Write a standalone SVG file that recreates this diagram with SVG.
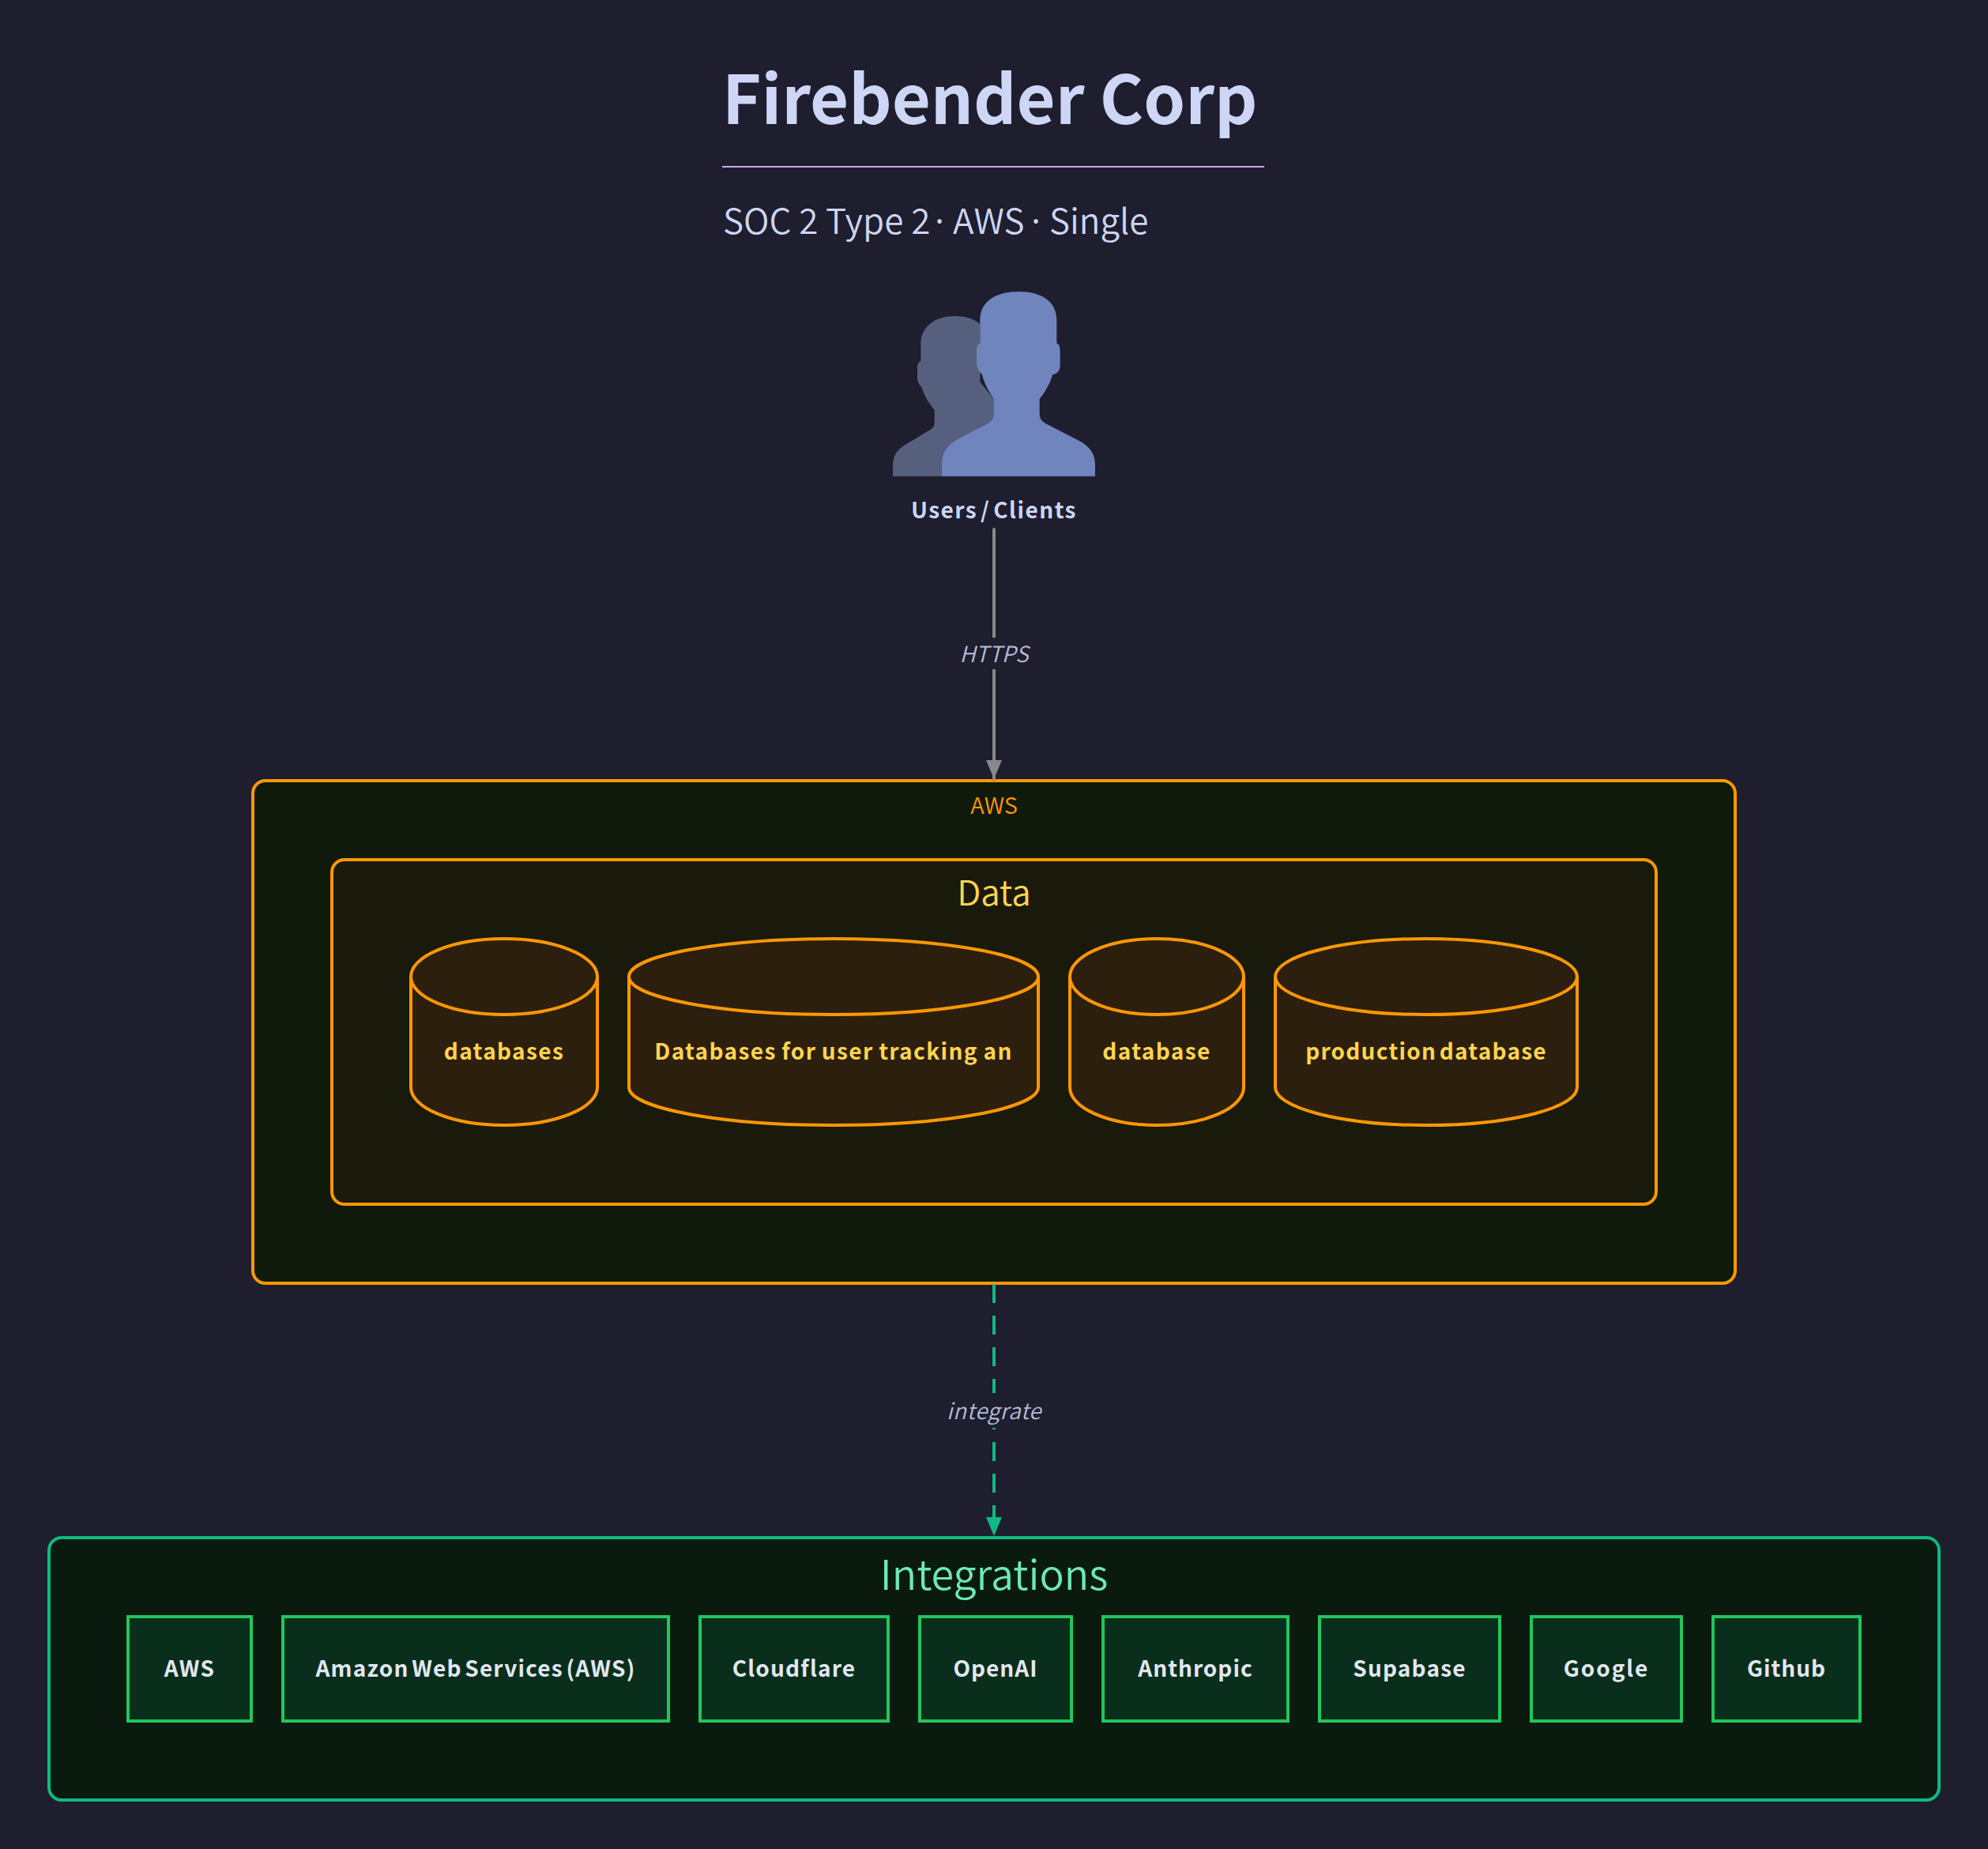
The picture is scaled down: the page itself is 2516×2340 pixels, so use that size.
<svg xmlns="http://www.w3.org/2000/svg" width="2516" height="2340" viewBox="0 0 2516 2340">
<style>
text{font-family:"Noto Sans CJK JP","Noto Sans",sans-serif}
.m{text-anchor:middle}
.cyl{fill:#2d1f0e;stroke:#ff9800;stroke-width:4}
.cl{fill:#ffd54f;font-size:28px;font-weight:700;letter-spacing:1.4px;word-spacing:-4px;text-anchor:middle}
.box{fill:#0a2e1c;stroke:#22c55e;stroke-width:4}
.bl{fill:#e2e8f0;font-size:28px;font-weight:700;letter-spacing:1.2px;word-spacing:-4px;text-anchor:middle}
.el{fill:#b4bcd9;font-size:28px;font-style:italic;font-weight:350;text-anchor:middle}
</style>
<defs>
<marker id="ag" markerUnits="userSpaceOnUse" markerWidth="24" markerHeight="20" refX="24" refY="10" orient="auto"><path d="M0 0L24 10L0 20Z" fill="#888"/></marker>
<marker id="at" markerUnits="userSpaceOnUse" markerWidth="24" markerHeight="20" refX="24" refY="10" orient="auto"><path d="M0 0L24 10L0 20Z" fill="#10b981"/></marker>
</defs>
<rect width="2516" height="2340" fill="#1e1e2e"/>
<g id="header">
<text x="914" y="157" font-size="84.6" font-weight="700" fill="#cdd6f4">Firebender Corp</text>
<line x1="914" y1="211" x2="1600" y2="211" stroke="#cba6f7" stroke-width="2"/>
<text y="296" font-size="44" font-weight="350" fill="#cdd6f4"><tspan x="915">SOC 2 Type 2</tspan><tspan x="1177">·</tspan><tspan x="1206">AWS</tspan><tspan x="1299">·</tspan><tspan x="1328">Single</tspan></text>
</g>
<g id="users">
<g transform="translate(1100 350) scale(.33333)">
<path fill="#56607e" d="M90 758V720C90 680 105 660 135 640L235 580C245 572 248 565 248 550V507C225 480 208 450 198 418C188 410 183 400 183 385V345C183 330 188 325 196 320V255C196 190 250 150 325 150C370 150 400 162 421 180V400L473 465V520C473 535 468 547 450 557L330 620C295 640 275 670 275 715V758Z"/>
<path fill="#7084bd" d="M275 758V715C275 670 295 640 330 620L450 557C468 547 473 535 473 520V465C450 430 435 400 428 370C415 360 408 345 408 325V285C408 265 412 258 421 253V165C421 95 480 57 566 57C655 57 712 95 712 165V253C722 258 725 268 725 285V340C725 358 712 370 696 373C688 405 670 435 647 465V520C647 535 652 548 670 558L800 625C835 645 858 670 858 715V758Z"/>
</g>
<text class="m" x="1258" y="656" font-size="28" font-weight="700" letter-spacing="1.5" word-spacing="-4" fill="#cdd6f4">Users / Clients</text>
</g>
<g id="aws">
<rect x="320" y="988" width="1876" height="636" rx="16" fill="#0f1a0b" stroke="#ff9800" stroke-width="4"/>
<text class="m" x="1258" y="1030" font-size="29" font-weight="350" fill="#ff9800">AWS</text>
</g>
<g id="data">
<rect x="420" y="1088" width="1676" height="436" rx="16" fill="#1a1a0c" stroke="#ff9800" stroke-width="4"/>
<text class="m" x="1258" y="1146" font-size="44" font-weight="350" fill="#ffd54f">Data</text>
</g>
<g id="db1"><path class="cyl" d="M520 1236V1376A118 48 0 0 0 756 1376V1236A118 48 0 0 0 520 1236ZM520 1236A118 48 0 0 0 756 1236"/><text class="cl" x="638" y="1341">databases</text></g>
<g id="db2"><path class="cyl" d="M796 1236V1376A259 48 0 0 0 1314 1376V1236A259 48 0 0 0 796 1236ZM796 1236A259 48 0 0 0 1314 1236"/><text class="cl" x="1055" y="1341" style="word-spacing:-1.2px">Databases for user tracking an</text></g>
<g id="db3"><path class="cyl" d="M1354 1236V1376A110 48 0 0 0 1574 1376V1236A110 48 0 0 0 1354 1236ZM1354 1236A110 48 0 0 0 1574 1236"/><text class="cl" x="1464" y="1341">database</text></g>
<g id="db4"><path class="cyl" d="M1614 1236V1376A191 48 0 0 0 1996 1376V1236A191 48 0 0 0 1614 1236ZM1614 1236A191 48 0 0 0 1996 1236"/><text class="cl" x="1805" y="1341" style="letter-spacing:1.25px">production database</text></g>
<g id="integrations">
<rect x="62" y="1946" width="2392" height="332" rx="16" fill="#0a1a0f" stroke="#10b981" stroke-width="4"/>
<text class="m" x="1258" y="2012" font-size="52" font-weight="350" fill="#6ee7b7">Integrations</text>
</g>
<g id="i1"><rect class="box" x="162" y="2046" width="156" height="132"/><text class="bl" x="240" y="2122">AWS</text></g>
<g id="i2"><rect class="box" x="358" y="2046" width="488" height="132"/><text class="bl" x="602" y="2122">Amazon Web Services (AWS)</text></g>
<g id="i3"><rect class="box" x="886" y="2046" width="238" height="132"/><text class="bl" x="1005" y="2122">Cloudflare</text></g>
<g id="i4"><rect class="box" x="1164" y="2046" width="192" height="132"/><text class="bl" x="1260" y="2122" style="letter-spacing:1px">OpenAI</text></g>
<g id="i5"><rect class="box" x="1396" y="2046" width="234" height="132"/><text class="bl" x="1513" y="2122" style="letter-spacing:1px">Anthropic</text></g>
<g id="i6"><rect class="box" x="1670" y="2046" width="228" height="132"/><text class="bl" x="1784" y="2122">Supabase</text></g>
<g id="i7"><rect class="box" x="1938" y="2046" width="190" height="132"/><text class="bl" x="2033" y="2122" style="letter-spacing:1.9px">Google</text></g>
<g id="i8"><rect class="box" x="2168" y="2046" width="186" height="132"/><text class="bl" x="2261" y="2122" style="letter-spacing:1px">Github</text></g>
<g id="connectors">
<path d="M1258 670V986" fill="none" stroke="#888" stroke-width="4" stroke-linecap="round" marker-end="url(#ag)"/>
<rect x="1210" y="807" width="96" height="40" fill="#1e1e2e"/>
<text class="el" x="1258" y="838">HTTPS</text>
<path d="M1258 1625V1944" fill="none" stroke="#10b981" stroke-width="4" stroke-dasharray="24 16" marker-end="url(#at)"/>
<rect x="1190" y="1763" width="136" height="44" fill="#1e1e2e"/>
<text class="el" x="1258" y="1796" style="letter-spacing:.5px">integrate</text>
</g>
</svg>
